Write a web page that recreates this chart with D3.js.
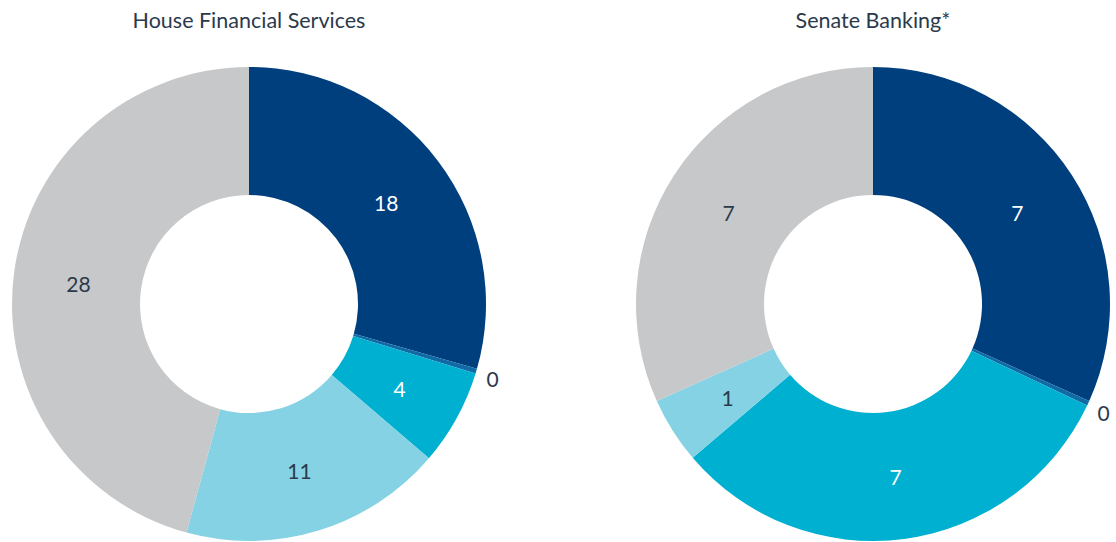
<!DOCTYPE html>
<html>
<head>
<meta charset="utf-8">
<script src="https://cdn.jsdelivr.net/npm/d3@7"></script>
<style>
  body { margin: 0; background: #fff; }
  svg { display: block; font-family: Lato, "Open Sans", sans-serif; }
</style>
</head>
<body>
<div id="chart"></div>
<script>
const width = 1116
const height = 542

const titles = ["House Financial Services", "Senate Banking*"]
const categories = ["a", "b", "c", "d", "e"]
const houseValues = [18, 0, 4, 11, 28]
const senateValues = [7, 0, 7, 1, 7]

const colors = ["#003f7d", "#0f6aa6", "#00b0d1", "#84d2e4", "#c7c8ca"]
const labelColors = ["#ffffff", "#2b3a4b", "#ffffff", "#2b3a4b", "#2b3a4b"]

const outerR = 237
const innerR = 109
const labelR = 172
const zeroLabelR = 254

const svg = d3.select("#chart").append("svg")
    .attr("width", width)
    .attr("height", height)
    .attr("viewBox", [0, 0, width, height])

const centers = d3.scalePoint()
    .domain(titles)
    .range([249, 873])

function drawDonut(title, values) {
  const total = d3.sum(values)
  const data = values.map((v, i) => ({cat: categories[i], value: v, i: i}))

  // zero slices still show as a hairline
  const pie = d3.pie()
      .sort(null)
      .value(d => Math.max(d.value, total / 300))

  const arc = d3.arc().innerRadius(innerR).outerRadius(outerR)
  const labelArc = d3.arc().innerRadius(labelR).outerRadius(labelR)
  const zeroArc = d3.arc().innerRadius(zeroLabelR).outerRadius(zeroLabelR)

  const g = svg.append("g")
      .attr("transform", `translate(${centers(title)},304)`)

  g.selectAll("path")
    .data(pie(data))
    .join("path")
      .attr("d", arc)
      .attr("fill", d => colors[d.data.i])

  g.selectAll("text.lbl")
    .data(pie(data))
    .join("text")
      .attr("class", "lbl")
      .attr("transform", d => `translate(${(d.data.value === 0 ? zeroArc : labelArc).centroid(d)})`)
      .attr("text-anchor", "middle")
      .attr("dy", "0.5em")
      .attr("font-size", "21px")
      .attr("fill", d => d.data.value === 0 ? "#2b3a4b" : labelColors[d.data.i])
      .text(d => d.data.value)

  svg.append("text")
      .attr("x", centers(title))
      .attr("y", 28)
      .attr("text-anchor", "middle")
      .attr("font-size", "21.5px")
      .attr("fill", "#2b3a4b")
      .text(title)
}

drawDonut(titles[0], houseValues)
drawDonut(titles[1], senateValues)
</script>
</body>
</html>
